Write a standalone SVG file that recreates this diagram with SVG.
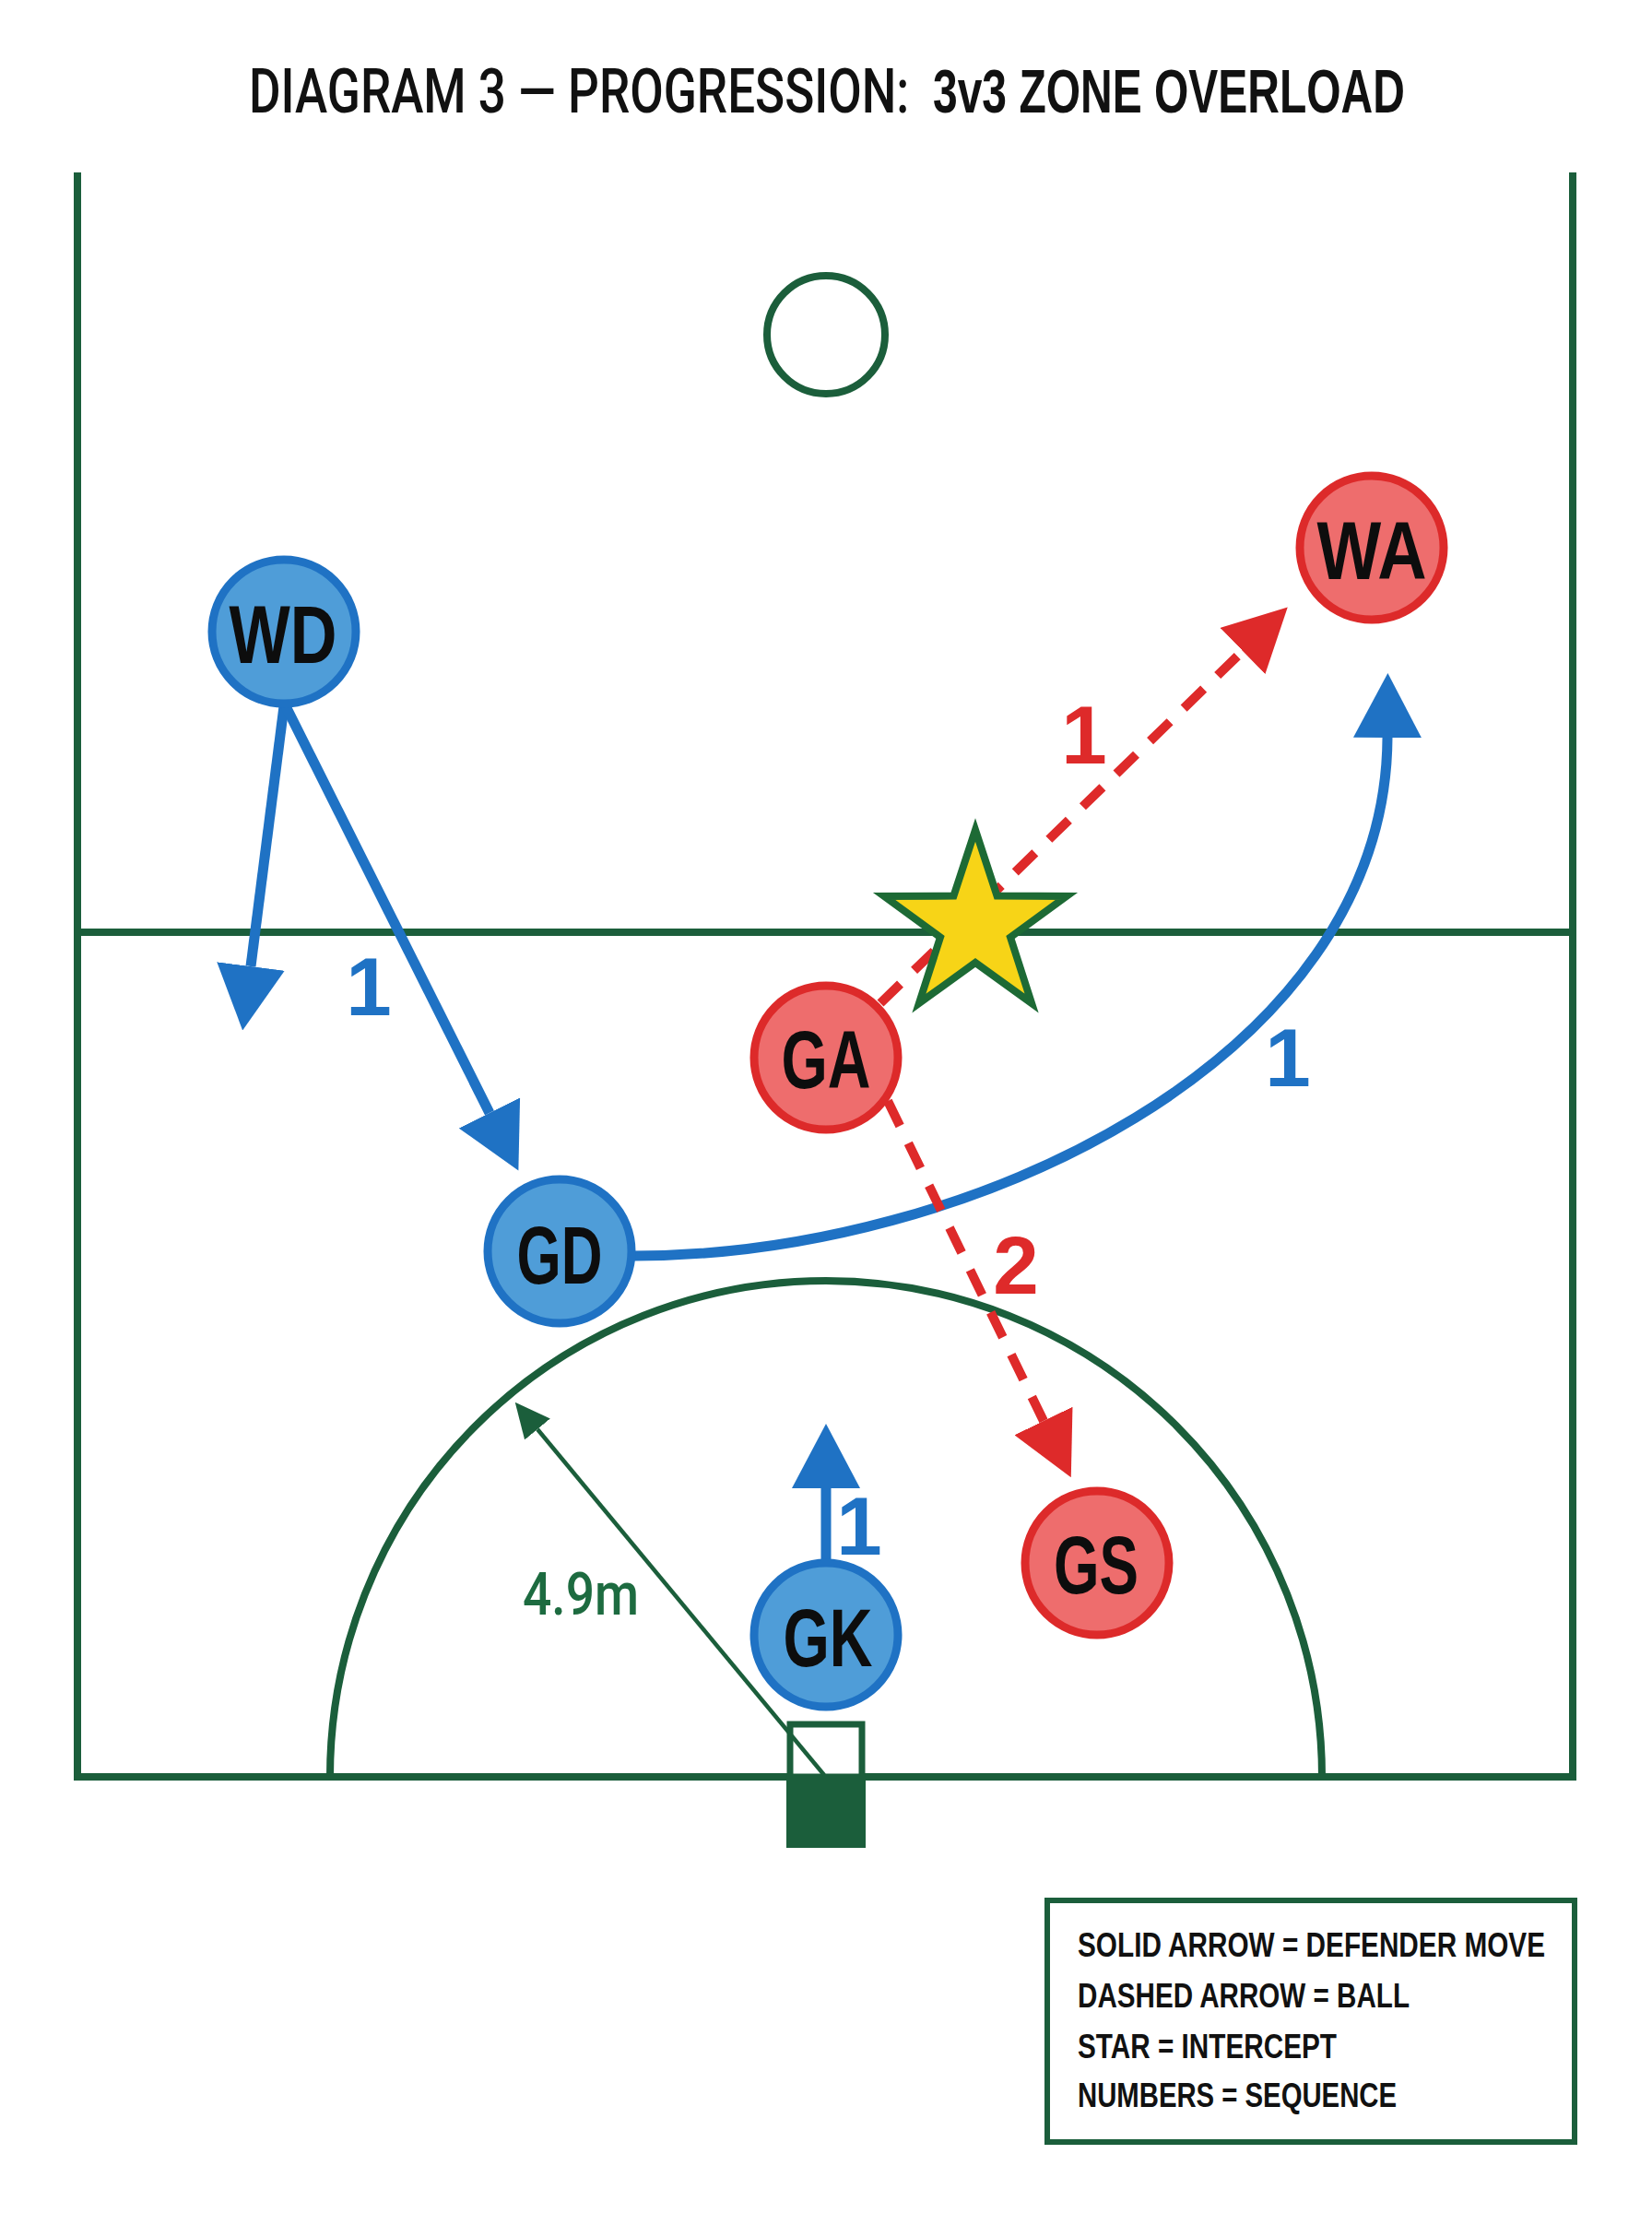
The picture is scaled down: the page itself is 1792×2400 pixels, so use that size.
<svg xmlns="http://www.w3.org/2000/svg" width="1792" height="2400" viewBox="0 0 1792 2400">
<style>
.court{fill:none;stroke:#1b5e3b;stroke-width:8}
.blue{fill:none;stroke:#1f72c4;stroke-width:11}
.red{fill:none;stroke:#de2a2a;stroke-width:10;stroke-dasharray:30 21}
.nb{fill:#4f9dd8;stroke:#1f72c4;stroke-width:9}
.nr{fill:#ee6d6d;stroke:#dd2a2a;stroke-width:9}
.lbl{font-family:"Liberation Sans",Arial,sans-serif;font-weight:bold;font-size:89px;fill:#0d0d0d;text-anchor:middle}
.num{font-family:"Liberation Sans",Arial,sans-serif;font-weight:bold;font-size:89px;text-anchor:middle}
.leg{font-family:"Liberation Sans",Arial,sans-serif;font-weight:bold;font-size:36px;fill:#111}
</style>
<defs>
<marker id="hb" viewBox="0 0 70 74" refX="0" refY="37" markerWidth="70" markerHeight="74" markerUnits="userSpaceOnUse" orient="auto"><path d="M0,0 L70,37 L0,74 Z" fill="#1f72c4"/></marker>
<marker id="hr" viewBox="0 0 68 70" refX="0" refY="35" markerWidth="68" markerHeight="70" markerUnits="userSpaceOnUse" orient="auto"><path d="M0,0 L68,35 L0,70 Z" fill="#de2a2a"/></marker>
<marker id="hg" viewBox="0 0 38 36" refX="0" refY="18" markerWidth="38" markerHeight="36" markerUnits="userSpaceOnUse" orient="auto"><path d="M0,0 L38,18 L0,36 Z" fill="#1b5e3b"/></marker>
</defs>
<rect width="1792" height="2400" fill="#ffffff"/>
<g id="title">
<text transform="translate(270,122) scale(0.74,1)" x="0" y="0" font-family="Roboto,'Liberation Sans',sans-serif" font-weight="500" font-size="67" fill="#111" textLength="968" lengthAdjust="spacingAndGlyphs">DIAGRAM 3 — PROGRESSION:</text>
<text transform="translate(1012,122) scale(0.72,1)" x="0" y="0" font-family="'Liberation Sans',Arial,sans-serif" font-weight="bold" font-size="67" fill="#111" textLength="711" lengthAdjust="spacingAndGlyphs">3v3 ZONE OVERLOAD</text>
</g>
<g id="court">
<path class="court" d="M84,187 V1927 H1706 V187"/>
<line class="court" x1="84" y1="1011" x2="1706" y2="1011"/>
<circle class="court" cx="896" cy="363" r="64"/>
<path class="court" d="M358,1927 A538,538 0 0 1 1434,1927"/>
<rect x="857" y="1870" width="78" height="57" fill="#fff" stroke="#1b5e3b" stroke-width="7"/>
<rect x="853" y="1927" width="86" height="77" fill="#1b5e3b"/>
</g>
<g id="connectors">
<line x1="894" y1="1925" x2="583" y2="1550" stroke="#1b5e3b" stroke-width="4.5" marker-end="url(#hg)"/>
<line class="blue" x1="308" y1="766" x2="272" y2="1048" marker-end="url(#hb)"/>
<line class="blue" x1="310" y1="766" x2="531" y2="1207" marker-end="url(#hb)"/>
<path class="blue" d="M688,1362 C1050,1362 1503,1150 1505,800" marker-end="url(#hb)"/>
<line class="blue" x1="896" y1="1692" x2="896" y2="1614" marker-end="url(#hb)"/>
<line class="red" x1="955" y1="1088" x2="1348" y2="706" marker-end="url(#hr)"/>
<line class="red" x1="963" y1="1194" x2="1132" y2="1541" marker-end="url(#hr)"/>
</g>
<g id="sequence-labels">
<text class="num" x="400" y="1101" fill="#1f72c4">1</text>
<text class="num" x="1397" y="1178" fill="#1f72c4">1</text>
<text class="num" x="932" y="1686" fill="#1f72c4">1</text>
<text class="num" x="1176" y="828" fill="#de2a2a">1</text>
<text class="num" x="1102" y="1403" fill="#de2a2a">2</text>
<text x="630" y="1751" font-family="Roboto,'Liberation Sans',sans-serif" font-weight="500" font-size="64" fill="#1d6b40" text-anchor="middle" textLength="126" lengthAdjust="spacingAndGlyphs">4.9m</text>
</g>
<g id="intercept">
<polygon points="1058,900 1081.5,971.6 1156.9,971.9 1096,1016.4 1119.1,1088.1 1058,1044 996.9,1088.1 1020,1016.4 959.1,971.9 1034.5,971.6" fill="#f7d417" stroke="#1d6a35" stroke-width="8" stroke-linejoin="miter"/>
</g>
<g id="node-WD"><circle class="nb" cx="308" cy="685" r="78"/><text class="lbl" x="307" y="719" textLength="117" lengthAdjust="spacingAndGlyphs">WD</text></g>
<g id="node-GD"><circle class="nb" cx="607" cy="1357" r="78"/><text class="lbl" x="607" y="1392" textLength="93" lengthAdjust="spacingAndGlyphs">GD</text></g>
<g id="node-GK"><circle class="nb" cx="896" cy="1773" r="78"/><text class="lbl" x="898" y="1807" textLength="97" lengthAdjust="spacingAndGlyphs">GK</text></g>
<g id="node-WA"><circle class="nr" cx="1488" cy="594" r="78"/><text class="lbl" x="1488" y="628" textLength="119" lengthAdjust="spacingAndGlyphs">WA</text></g>
<g id="node-GA"><circle class="nr" cx="896" cy="1147" r="78"/><text class="lbl" x="896" y="1180" textLength="97" lengthAdjust="spacingAndGlyphs">GA</text></g>
<g id="node-GS"><circle class="nr" cx="1190" cy="1695" r="78"/><text class="lbl" x="1189" y="1728" textLength="92" lengthAdjust="spacingAndGlyphs">GS</text></g>
<g id="legend">
<rect x="1136" y="2061" width="572" height="262" fill="#fff" stroke="#1b5e3b" stroke-width="6"/>
<text class="leg" x="1169" y="2122" textLength="507" lengthAdjust="spacingAndGlyphs">SOLID ARROW = DEFENDER MOVE</text>
<text class="leg" x="1169" y="2177" textLength="360" lengthAdjust="spacingAndGlyphs">DASHED ARROW = BALL</text>
<text class="leg" x="1169" y="2232" textLength="281" lengthAdjust="spacingAndGlyphs">STAR = INTERCEPT</text>
<text class="leg" x="1169" y="2285" textLength="346" lengthAdjust="spacingAndGlyphs">NUMBERS = SEQUENCE</text>
</g>
</svg>
